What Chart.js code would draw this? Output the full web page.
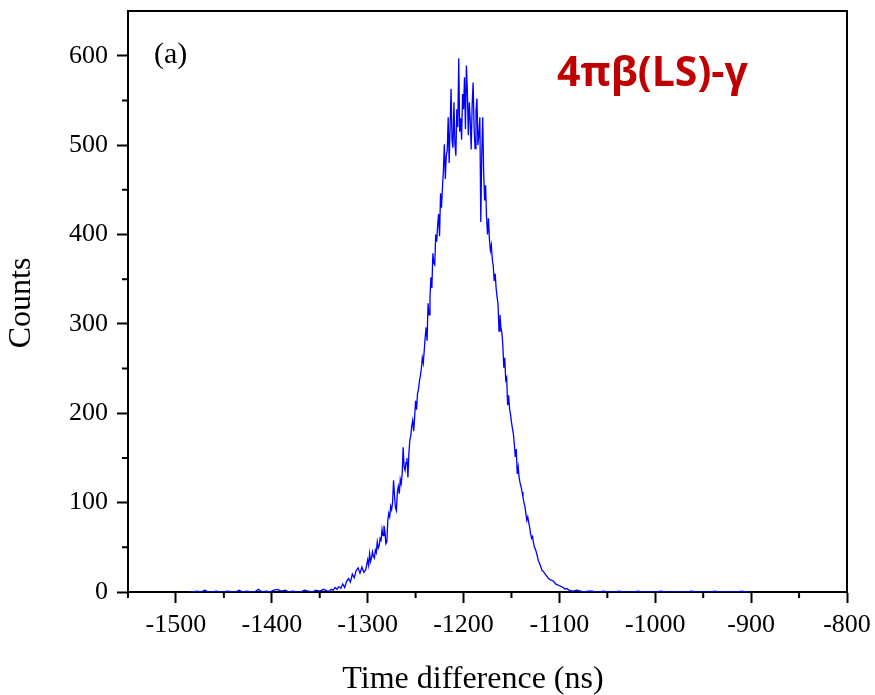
<!DOCTYPE html>
<html>
<head>
<meta charset="utf-8">
<title>Time difference histogram</title>
<script src="https://cdn.jsdelivr.net/npm/chart.js@4.4.1/dist/chart.umd.min.js"></script>
<style>
  html, body { margin: 0; padding: 0; background: #fff; }
  #wrap { width: 875px; height: 695px; }
</style>
</head>
<body>
<div id="wrap"><canvas id="histChart" width="875" height="695"></canvas></div>
<script>
// bin centres (ns) and counts
const timeNs = [
  // left tail
  -1486, -1482, -1478, -1474, -1470, -1466, -1462, -1458, -1454, -1450,
  -1446, -1442, -1438, -1434, -1430, -1426, -1422, -1418, -1414, -1410,
  -1406, -1402, -1398, -1394, -1390, -1386, -1382, -1378, -1374, -1370,
  -1366, -1362, -1358, -1354, -1350, -1346, -1342,
  // rising edge
  -1340, -1338, -1336, -1334, -1332, -1330, -1328, -1326, -1324, -1322,
  -1320, -1318, -1316, -1314, -1312, -1310, -1308, -1306, -1304, -1302,
  // main peak
  -1300, -1299, -1298, -1297, -1296, -1295, -1294, -1293, -1292, -1291,
  -1290, -1289, -1288, -1287, -1286, -1285, -1284, -1283, -1282, -1281,
  -1280, -1279, -1278, -1277, -1276, -1275, -1274, -1273, -1272, -1271,
  -1270, -1269, -1268, -1267, -1266, -1265, -1264, -1263, -1262, -1261,
  -1260, -1259, -1258, -1257, -1256, -1255, -1254, -1253, -1252, -1251,
  -1250, -1249, -1248, -1247, -1246, -1245, -1244, -1243, -1242, -1241,
  -1240, -1239, -1238, -1237, -1236, -1235, -1234, -1233, -1232, -1231,
  -1230, -1229, -1228, -1227, -1226, -1225, -1224, -1223, -1222, -1221,
  -1220, -1219, -1218, -1217, -1216, -1215, -1214, -1213, -1212, -1211,
  -1210, -1209, -1208, -1207, -1206, -1205, -1204, -1203, -1202, -1201,
  -1200, -1199, -1198, -1197, -1196, -1195, -1194, -1193, -1192, -1191,
  -1190, -1189, -1188, -1187, -1186, -1185, -1184, -1183, -1182, -1181,
  -1180, -1179, -1178, -1177, -1176, -1175, -1174, -1173, -1172, -1171,
  -1170, -1169, -1168, -1167, -1166, -1165, -1164, -1163, -1162, -1161,
  -1160, -1159, -1158, -1157, -1156, -1155, -1154, -1153, -1152, -1151,
  -1150, -1149, -1148, -1147, -1146, -1145, -1144, -1143, -1142, -1141,
  -1140, -1139, -1138, -1137, -1136, -1135, -1134, -1133, -1132, -1131,
  -1130, -1129, -1128, -1127, -1126, -1125, -1124, -1123, -1122, -1121,
  // falling edge
  -1120, -1118, -1116, -1114, -1112, -1110, -1108, -1106, -1104, -1102,
  -1100, -1098, -1096, -1094, -1092, -1090,
  // right tail
  -1086, -1082, -1078, -1074, -1070, -1066, -1062, -1058, -1054, -1050,
  -1046, -1042, -1038, -1034, -1030, -1026, -1022, -1018, -1014, -1010,
  -1006, -1002, -998, -994, -990, -986, -982, -978, -974, -970,
  -966, -962, -958, -954, -950, -946, -942, -938, -934, -930,
  -926, -922, -918, -914, -910, -906, -902
];

const counts = [
  // left tail
  0, 0, 1, 0, 2, 0, 0, 1, 0, 0,
  1, 0, 0, 2, 0, 1, 0, 0, 3, 0,
  1, 0, 2, 3, 1, 2, 0, 1, 0, 0,
  2, 1, 0, 2, 1, 3, 1,
  // rising edge
  1, 3, 2, 5, 3, 6, 4, 9, 5, 12,
  15, 11, 20, 16, 24, 27, 21, 28, 22, 25,
  // main peak
  36, 30, 43, 34, 38, 45, 40, 38, 47, 44,
  56, 49, 52, 60, 58, 70, 63, 74, 68, 54,
  56, 80, 88, 84, 96, 92, 100, 125, 108, 94,
  91, 112, 118, 110, 126, 121, 132, 162, 140, 136,
  145, 150, 128, 155, 170, 175, 186, 192, 180, 196,
  214, 204, 222, 227, 236, 242, 250, 262, 256, 270,
  285, 296, 281, 323, 310, 330, 352, 340, 379, 368,
  366, 400, 392, 410, 423, 398, 446, 430, 452, 471,
  501, 462, 488, 494, 531, 480, 520, 563, 505, 497,
  548, 502, 488, 540, 520, 597, 515, 530, 506, 557,
  540, 576, 518, 589, 560, 511, 548, 527, 495, 545,
  570, 520, 496, 538, 552, 500, 512, 531, 414, 490,
  531, 470, 438, 455, 420, 400, 418, 395, 382, 388,
  372, 365, 348, 356, 340, 330, 322, 292, 310, 296,
  290, 276, 251, 262, 237, 240, 209, 220, 205, 199,
  190, 183, 177, 165, 151, 160, 132, 140, 128, 122,
  118, 112, 106, 100, 96, 88, 80, 84, 78, 72,
  65, 60, 62, 55, 50, 48, 44, 40, 35, 33,
  // falling edge
  30, 24, 22, 19, 16, 14, 13, 12, 9, 8,
  7, 6, 5, 3, 4, 2,
  // right tail
  1, 2, 1, 0, 1, 1, 0, 0, 1, 0,
  0, 0, 1, 0, 0, 0, 0, 1, 0, 0,
  0, 0, 0, 1, 0, 0, 0, 0, 0, 0,
  0, 1, 0, 0, 0, 0, 0, 1, 0, 0,
  0, 0, 0, 0, 1, 0, 0
];

const xRange = [-1550, -800];
const yRange = [0, 650];
const majorStepX = 100;
const majorStepY = 100;
const minorStep = 50;

const SERIF = "'Liberation Serif', 'Times New Roman', serif";

const isMajor = (v, step) => Math.abs(v % step) < 1e-6;

// short minor ticks (Chart.js only draws one tick length) + top/right frame
const minorTicks = {
  id: "minorTicks",
  beforeDatasetsDraw(chart) {
    const { ctx, chartArea, scales } = chart;
    ctx.save();
    ctx.strokeStyle = "#000";
    ctx.lineWidth = 2;
    ctx.beginPath();
    scales.x.ticks.forEach((t) => {
      if (isMajor(t.value, majorStepX)) return;
      const px = scales.x.getPixelForValue(t.value);
      ctx.moveTo(px, chartArea.bottom);
      ctx.lineTo(px, chartArea.bottom + 6);
    });
    scales.y.ticks.forEach((t) => {
      if (isMajor(t.value, majorStepY) || t.value >= yRange[1]) return;
      const py = scales.y.getPixelForValue(t.value);
      ctx.moveTo(chartArea.left, py);
      ctx.lineTo(chartArea.left - 6, py);
    });
    ctx.stroke();
    ctx.beginPath();
    ctx.moveTo(chartArea.left, chartArea.top);
    ctx.lineTo(chartArea.right, chartArea.top);
    ctx.lineTo(chartArea.right, chartArea.bottom);
    ctx.stroke();
    ctx.restore();
  },
};

const labels = {
  id: "labels",
  afterDraw(chart) {
    const { ctx } = chart;
    ctx.save();
    ctx.fillStyle = "#000";
    ctx.textBaseline = "middle";

    ctx.font = `30px ${SERIF}`;
    ctx.textAlign = "left";
    ctx.fillText("(a)", 154, 55);

    ctx.font = `32px ${SERIF}`;
    ctx.textAlign = "center";
    ctx.fillText("Time difference (ns)", 473, 680);

    ctx.save();
    ctx.translate(22, 303);
    ctx.rotate(-Math.PI / 2);
    ctx.fillText("Counts", 0, 0);
    ctx.restore();

    ctx.fillStyle = "#c00000";
    ctx.font = `bold 41px 'Open Sans', 'Noto Sans', sans-serif`;
    ctx.textAlign = "left";
    ctx.fillText("4πβ(LS)-γ", 557, 74);
    ctx.restore();
  },
};

new Chart(document.getElementById("histChart"), {
  type: "line",
  data: {
    datasets: [
      {
        data: timeNs.map((t, i) => ({ x: t, y: counts[i] })),
        borderColor: "#0000ff",
        borderWidth: 1.3,
        pointRadius: 0,
        tension: 0,
        fill: false,
      },
    ],
  },
  options: {
    responsive: false,
    animation: false,
    layout: { padding: { top: 11, right: 28, bottom: 0, left: 0 } },
    plugins: {
      legend: { display: false },
      tooltip: { enabled: false },
    },
    scales: {
      x: {
        type: "linear",
        min: xRange[0],
        max: xRange[1],
        afterFit: (s) => {
          s.height = 103;
          s.paddingLeft = 0;
          s.paddingRight = 0;
        },
        border: { display: true, color: "#000", width: 2 },
        grid: {
          drawOnChartArea: false,
          drawTicks: true,
          tickLength: 11,
          tickWidth: 2,
          tickColor: (c) => (isMajor(c.tick.value, majorStepX) ? "#000" : "rgba(0,0,0,0)"),
        },
        ticks: {
          stepSize: minorStep,
          autoSkip: false,
          maxRotation: 0,
          padding: 7,
          color: "#000",
          font: { family: SERIF, size: 26 },
          callback: (v) => (isMajor(v, majorStepX) ? String(v) : ""),
        },
      },
      y: {
        type: "linear",
        min: yRange[0],
        max: yRange[1],
        afterFit: (s) => {
          s.width = 128;
          s.paddingTop = 0;
          s.paddingBottom = 0;
        },
        border: { display: true, color: "#000", width: 2 },
        grid: {
          drawOnChartArea: false,
          drawTicks: true,
          tickLength: 11,
          tickWidth: 2,
          tickColor: (c) => (isMajor(c.tick.value, majorStepY) && c.tick.value < yRange[1] ? "#000" : "rgba(0,0,0,0)"),
        },
        ticks: {
          stepSize: minorStep,
          autoSkip: false,
          padding: 9,
          color: "#000",
          font: { family: SERIF, size: 26 },
          callback: (v) => (isMajor(v, majorStepY) ? String(v) : ""),
        },
      },
    },
  },
  plugins: [minorTicks, labels],
});
</script>
</body>
</html>
